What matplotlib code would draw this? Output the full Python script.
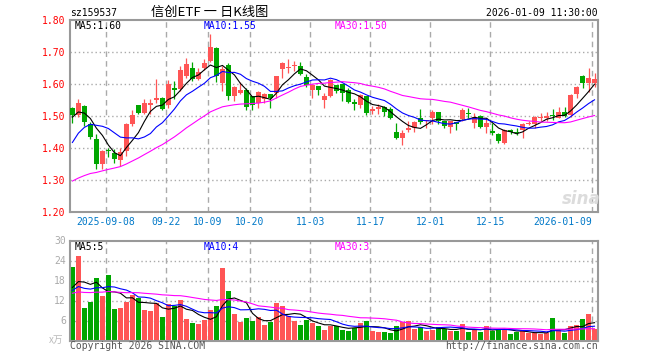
import numpy as np
import pandas as pd
import matplotlib
matplotlib.use("Agg")
import matplotlib.pyplot as plt

# ==========================================
# DATA
# ==========================================

holidays = ["2025-10-01", "2025-10-02", "2025-10-03", "2025-10-06",
            "2025-10-07", "2025-10-08", "2026-01-01", "2026-01-02"]
days = pd.bdate_range("2025-08-29", "2026-01-09")
days = days[~days.isin(pd.to_datetime(holidays))]

open_ = [1.526, 1.503, 1.531, 1.474, 1.429, 1.350, 1.393, 1.385, 1.363, 1.391,
         1.474, 1.534, 1.510, 1.534, 1.550, 1.557, 1.536, 1.589, 1.585, 1.625,
         1.651, 1.615, 1.651, 1.672, 1.714, 1.604, 1.661, 1.563, 1.573, 1.583,
         1.563, 1.542, 1.554, 1.570, 1.573, 1.646, 1.649, 1.656, 1.658, 1.623,
         1.583, 1.594, 1.550, 1.563, 1.596, 1.599, 1.583, 1.545, 1.534, 1.563,
         1.516, 1.523, 1.528, 1.523, 1.451, 1.430, 1.455, 1.464, 1.495, 1.483,
         1.493, 1.514, 1.486, 1.466, 1.481, 1.490, 1.509, 1.477, 1.500, 1.467,
         1.453, 1.445, 1.417, 1.455, 1.451, 1.455, 1.474, 1.474, 1.493, 1.495,
         1.502, 1.495, 1.513, 1.502, 1.568, 1.625, 1.604, 1.604]

high = [1.528, 1.552, 1.536, 1.481, 1.445, 1.395, 1.400, 1.396, 1.400, 1.478,
        1.520, 1.536, 1.552, 1.552, 1.617, 1.560, 1.613, 1.611, 1.656, 1.682,
        1.669, 1.649, 1.679, 1.757, 1.717, 1.656, 1.667, 1.593, 1.606, 1.589,
        1.563, 1.578, 1.572, 1.570, 1.627, 1.669, 1.679, 1.672, 1.669, 1.633,
        1.597, 1.594, 1.573, 1.617, 1.598, 1.601, 1.589, 1.552, 1.568, 1.563,
        1.531, 1.539, 1.530, 1.528, 1.479, 1.455, 1.484, 1.484, 1.523, 1.489,
        1.518, 1.514, 1.486, 1.486, 1.481, 1.526, 1.526, 1.510, 1.502, 1.493,
        1.479, 1.448, 1.458, 1.460, 1.464, 1.479, 1.484, 1.500, 1.508, 1.514,
        1.521, 1.529, 1.527, 1.568, 1.594, 1.630, 1.649, 1.635]

low = [1.479, 1.497, 1.470, 1.427, 1.335, 1.335, 1.372, 1.354, 1.345, 1.374,
       1.470, 1.507, 1.507, 1.505, 1.542, 1.520, 1.526, 1.552, 1.578, 1.620,
       1.609, 1.612, 1.645, 1.668, 1.607, 1.578, 1.549, 1.547, 1.570, 1.518,
       1.518, 1.526, 1.542, 1.524, 1.557, 1.620, 1.635, 1.641, 1.630, 1.590,
       1.557, 1.565, 1.526, 1.560, 1.573, 1.547, 1.542, 1.518, 1.526, 1.503,
       1.507, 1.505, 1.500, 1.490, 1.427, 1.409, 1.451, 1.451, 1.474, 1.461,
       1.474, 1.474, 1.464, 1.448, 1.456, 1.486, 1.495, 1.464, 1.464, 1.448,
       1.442, 1.417, 1.411, 1.445, 1.441, 1.432, 1.471, 1.463, 1.483, 1.483,
       1.489, 1.493, 1.497, 1.497, 1.555, 1.588, 1.575, 1.591]

close = [1.502, 1.542, 1.482, 1.435, 1.349, 1.389, 1.390, 1.365, 1.386, 1.476,
         1.503, 1.510, 1.542, 1.542, 1.555, 1.523, 1.599, 1.583, 1.643, 1.664,
         1.615, 1.638, 1.665, 1.717, 1.625, 1.648, 1.563, 1.591, 1.583, 1.528,
         1.534, 1.575, 1.568, 1.557, 1.625, 1.665, 1.654, 1.661, 1.633, 1.596,
         1.596, 1.581, 1.563, 1.613, 1.578, 1.573, 1.545, 1.539, 1.566, 1.510,
         1.521, 1.528, 1.513, 1.495, 1.432, 1.448, 1.464, 1.482, 1.481, 1.489,
         1.514, 1.486, 1.469, 1.484, 1.476, 1.518, 1.505, 1.497, 1.467, 1.479,
         1.448, 1.422, 1.455, 1.451, 1.447, 1.476, 1.479, 1.498, 1.497, 1.500,
         1.499, 1.514, 1.500, 1.566, 1.592, 1.604, 1.620, 1.617]

# volume, 万
volume = [22.0, 25.4, 9.7, 11.6, 18.7, 13.5, 19.7, 9.4, 9.7, 11.6,
          13.7, 12.9, 9.1, 8.8, 11.2, 7.0, 10.9, 10.5, 12.1, 6.4,
          5.2, 4.9, 6.2, 9.1, 10.3, 21.7, 14.8, 7.9, 5.5, 6.7,
          5.9, 7.0, 4.6, 5.6, 11.2, 10.3, 7.5, 5.9, 4.6, 6.2,
          5.2, 4.4, 3.2, 4.5, 4.5, 3.2, 2.9, 3.9, 5.2, 5.9,
          2.9, 2.5, 2.5, 2.2, 4.3, 5.7, 5.9, 3.5, 4.2, 2.9,
          3.2, 4.1, 3.5, 2.9, 2.9, 4.9, 2.5, 3.2, 2.7, 4.3,
          2.9, 3.5, 3.5, 1.9, 2.5, 2.9, 2.3, 2.2, 1.9, 2.2,
          6.7, 3.2, 2.2, 4.3, 4.6, 6.4, 7.9, 3.5]

# closes / volumes before the window, estimated from where the MA lines start
pre_close = [1.26, 1.25, 1.24, 1.25, 1.24, 1.25, 1.24, 1.25,
             1.23, 1.22, 1.23, 1.22, 1.23, 1.22, 1.23, 1.24,
             1.22, 1.23, 1.23, 1.24, 1.25,
             1.30, 1.34, 1.38, 1.42,
             1.46, 1.50, 1.52, 1.50]
pre_volume = [13.2, 14.6, 12.8, 15.0, 13.4, 12.9, 14.1, 13.6, 14.8, 12.7,
              13.9, 14.3, 12.6, 15.2, 13.1, 13.8, 14.5, 12.9, 13.6, 14.2,
              13.5, 15.2, 13.8, 14.6, 13.4,
              16.5, 10.5, 15.0, 15.5]

tick_days = ["2025-09-08", "2025-09-22", "2025-10-09", "2025-10-20", "2025-11-03",
             "2025-11-17", "2025-12-01", "2025-12-15", "2026-01-09"]
tick_text = ["2025-09-08", "09-22", "10-09", "10-20", "11-03",
             "11-17", "12-01", "12-15", "2026-01-09"]

# ==========================================
# MOVING AVERAGES
# ==========================================

n = len(close)
x = np.arange(n)
closes = pd.Series(pre_close + close)
vols = pd.Series(pre_volume + volume)
ma = {w: closes.rolling(w).mean().values[-n:] for w in (5, 10, 30)}
vma = {w: vols.rolling(w).mean().values[-n:] for w in (5, 10, 30)}

RED = "#ff5555"
GREEN = "#00a600"
ma_colors = {5: "black", 10: "#0000ff", 30: "#ff00ff"}
up = np.array(close) >= np.array(open_)
colors = [RED if u else GREEN for u in up]

mono = "DejaVu Sans Mono"
W, H = 660, 360

def px(xp, yp):
    return xp / W, 1 - yp / H

# ==========================================
# FIGURE
# ==========================================

fig = plt.figure(figsize=(6.6, 3.6), dpi=100)
fig.patch.set_facecolor("white")

left, right = 70, 597.7
ax = fig.add_axes([left / W, 1 - 211.8 / H, (right - left) / W, (211.8 - 20.3) / H])
axv = fig.add_axes([left / W, 1 - 340.5 / H, (right - left) / W, (340.5 - 240.5) / H])

tick_pos = [int(np.where(days == pd.Timestamp(d))[0][0]) - 0.4 for d in tick_days]

for a in (ax, axv):
    a.set_xlim(-0.4, n - 0.47)
    for s in a.spines.values():
        s.set_color("#999999")
        s.set_linewidth(1.5)
    for p in tick_pos:
        a.axvline(p, color="#aaaaaa", lw=1, ls=(0, (4, 3)), zorder=0)
    a.tick_params(length=0)

# ==========================================
# PRICE PANEL
# ==========================================

ax.set_ylim(1.20, 1.80)
ax.set_yticks(np.arange(1.2, 1.81, 0.1))
ax.set_yticklabels([f"{v:.2f}" for v in np.arange(1.2, 1.81, 0.1)],
                   color="#ff0000", fontsize=7, family=mono)
ax.tick_params(axis="y", pad=3)
for v in np.arange(1.3, 1.75, 0.1):
    ax.axhline(v, color="#aaaaaa", lw=1, ls=(0, (1, 2)), zorder=0)

body_low = np.minimum(open_, close)
body_h = np.maximum(np.abs(np.array(close) - np.array(open_)), 0.002)
ax.vlines(x, low, high, colors=colors, lw=0.9, zorder=2)
ax.bar(x, body_h, bottom=body_low, width=0.78, color=colors, zorder=3)

for w in (5, 10, 30):
    ax.plot(x, ma[w], color=ma_colors[w], lw=0.8, zorder=4)

ax.set_xticks(tick_pos)
ax.set_xticklabels(tick_text, color="#0078c8", fontsize=7, family=mono)
ax.tick_params(axis="x", pad=4)
ax.get_xticklabels()[-1].set_ha("right")
ax.get_xticklabels()[-1].set_x(tick_pos[-1] + 0.1)

fig.text(*px(75, 26), f"MA5:{ma[5][-1]:.2f}", color="black", fontsize=7, family=mono, va="center")
fig.text(*px(204, 26), f"MA10:{ma[10][-1]:.2f}", color="#0000ff", fontsize=7, family=mono, va="center")
fig.text(*px(335, 26), f"MA30:{ma[30][-1]:.2f}", color="#ff00ff", fontsize=7, family=mono, va="center")

# sina watermark
fig.text(*px(581, 199), "sina", color="#dcdcdc", fontsize=12, fontweight="bold",
         style="italic", ha="center", va="center")

# ==========================================
# VOLUME PANEL
# ==========================================

axv.set_ylim(0, 30)
axv.set_yticks([6, 12, 18, 24, 30])
axv.set_yticklabels(["6", "12", "18", "24", "30"], color="#aaaaaa", fontsize=7, family=mono)
axv.tick_params(axis="y", pad=3)
for v in (6, 12, 18, 24):
    axv.axhline(v, color="#aaaaaa", lw=1, ls=(0, (1, 2)), zorder=0)
axv.set_xticks([])

axv.bar(x, volume, width=0.78, color=colors, zorder=2)
for w in (5, 10, 30):
    axv.plot(x, vma[w], color=ma_colors[w], lw=0.8, zorder=4)

fig.text(*px(75, 246.5), f"MA5:{int(vma[5][-1])}", color="black", fontsize=7, family=mono, va="center")
fig.text(*px(204, 246.5), f"MA10:{int(vma[10][-1])}", color="#0000ff", fontsize=7, family=mono, va="center")
fig.text(*px(335, 246.5), f"MA30:{int(vma[30][-1])}", color="#ff00ff", fontsize=7, family=mono, va="center")

fig.text(*px(63, 340), "x万", color="#bbbbbb", fontsize=7, ha="right", va="center",
         family=["Noto Sans CJK SC", "DejaVu Sans"])

# ==========================================
# HEADER / FOOTER
# ==========================================

fig.text(*px(70, 13), "sz159537", color="black", fontsize=7, family=mono, va="center")
fig.text(*px(210, 12), "信创ETF 一 日K线图", color="black", fontsize=9.5, ha="center", va="center",
         family=["Noto Sans CJK SC", "DejaVu Sans"])
fig.text(*px(597.7, 13), "2026-01-09 11:30:00", color="black", fontsize=7, family=mono,
         ha="right", va="center")

fig.text(*px(70, 346), "Copyright 2026 SINA.COM", color="#555555", fontsize=7, family=mono, va="center")
fig.text(*px(597.7, 346), "http://finance.sina.com.cn", color="#555555", fontsize=7, family=mono,
         ha="right", va="center")

fig.savefig("out.png", dpi=100)
